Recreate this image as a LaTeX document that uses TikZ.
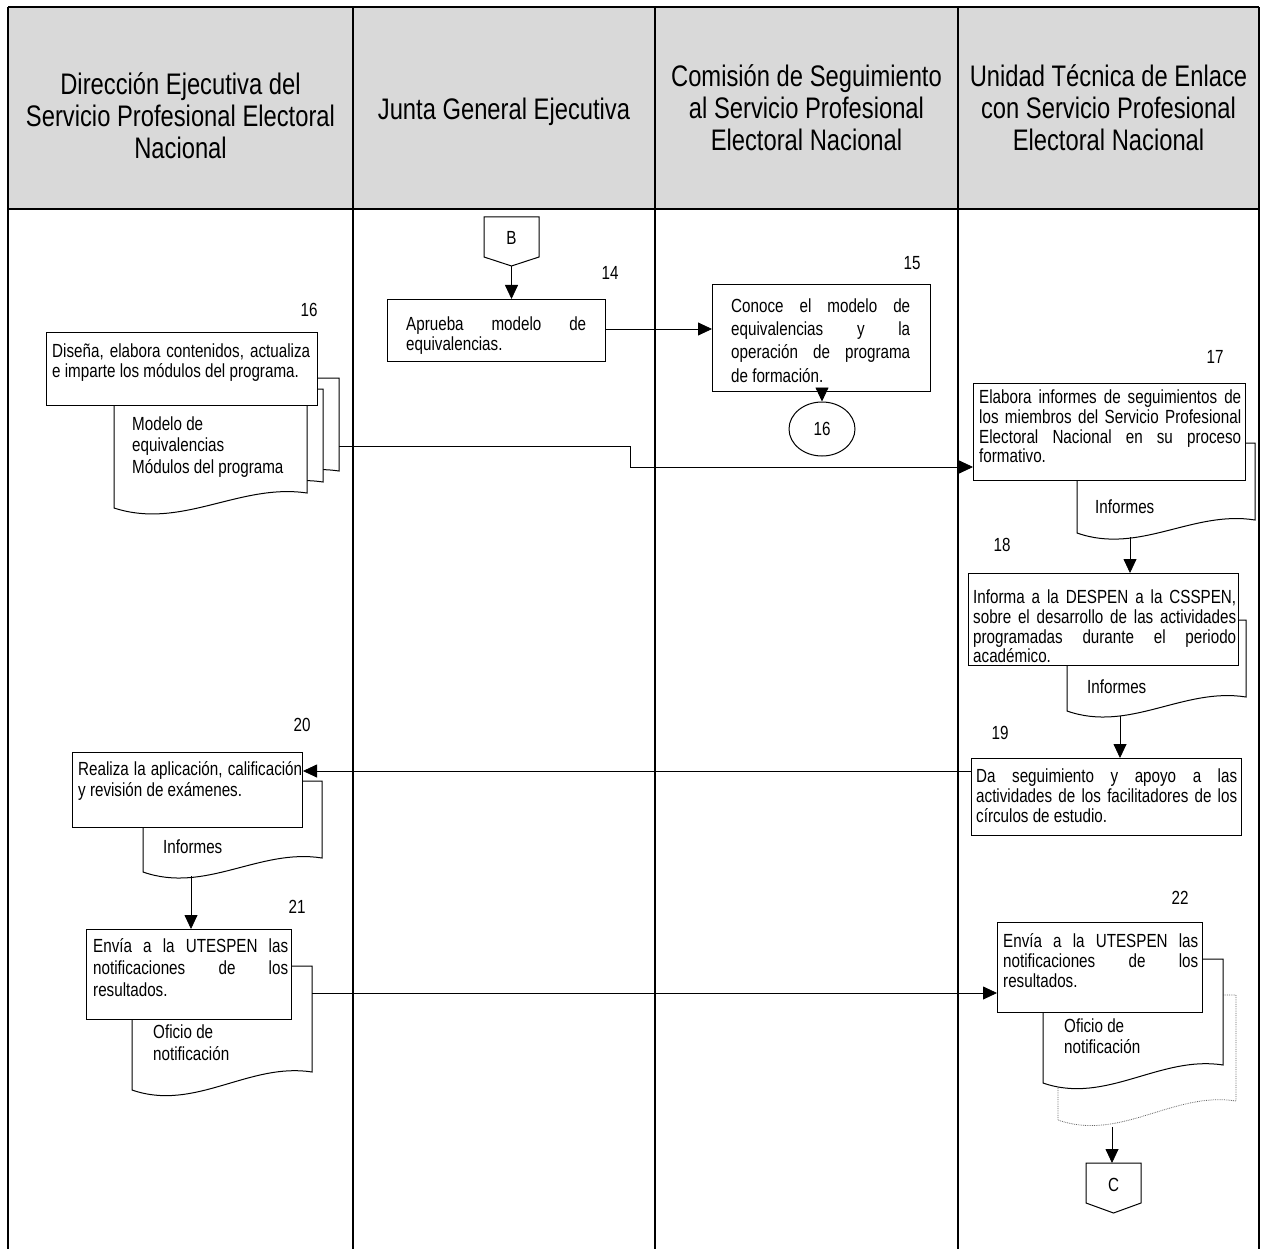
\documentclass[tikz,border=0pt]{standalone}
\usepackage{fontspec}
\setmainfont[FakeStretch=0.8]{Liberation Sans}
\usetikzlibrary{arrows.meta,shapes.geometric}
\tikzset{
  lane/.style={draw=black, line width=1.3pt},
  box/.style={draw=black, line width=1pt, fill=white, rectangle, inner sep=0pt, anchor=north west},
  doc/.style={draw=black, line width=1pt, fill=white},
  ghost/.style={draw=black!60, line width=0.8pt, densely dotted, fill=white},
  arr/.style={draw=black, line width=0.8pt, -{Triangle[length=14pt,width=13pt]}},
  txt/.style={inner sep=0pt, anchor=north west, align=justify, font=\fontsize{19}{19.5}\selectfont},
  ltxt/.style={inner sep=0pt, anchor=north west, align=left, font=\fontsize{19}{21}\selectfont},
  num/.style={inner sep=0pt, font=\fontsize{19}{19.5}\selectfont},
  head/.style={inner sep=0pt, align=center, font=\fontsize{29.7}{32}\selectfont},
}
\newcommand\docshape[6]{\path[#1] (#2,#4) -- (#3,#4) -- (#3,#6) .. controls ({#3-0.35*(#3-#2)},{#6-10}) and ({#2+0.35*(#3-#2)},{#5+22}) .. (#2,#5) -- cycle;}
\begin{document}
\begin{tikzpicture}[x=1pt,y=-1pt]
\useasboundingbox (0,0) rectangle (1261,1249);
\fill[white] (0,0) rectangle (1261,1249);
% header
\fill[black!15] (8,7) rectangle (1259,209);
\draw[lane] (8,7) -- (1259,7);
\draw[lane] (8,209) -- (1259,209);
\foreach \xx in {8,353,655,958,1259} { \draw[lane] (\xx,7) -- (\xx,1249); }
\node[head] (h1) at (180.5,116) {Dirección Ejecutiva del\\Servicio Profesional Electoral\\Nacional};
\node[head] (h2) at (504,112) {Junta General Ejecutiva};
\node[head] (h3) at (806.5,108) {Comisión de Seguimiento\\al Servicio Profesional\\Electoral Nacional};
\node[head] (h4) at (1108.5,108) {Unidad Técnica de Enlace\\con Servicio Profesional\\Electoral Nacional};

% connector B
\draw[doc] (484,217) -- (539,217) -- (539,257) -- (511.5,266) -- (484,257) -- cycle;
\node[num] (B) at (511.5,238) {B};
\coordinate (Btip) at (511.5,266);

% 14
\node[box, minimum width=218pt, minimum height=62pt] (b14) at (387,299) {};
\node[txt, text width=180pt] (t14) at (406,316.35) {\strut Aprueba modelo de\linebreak equivalencias.};
\node[num] (n14) at (610,273) {14};

% 15
\node[box, minimum width=218pt, minimum height=107pt] (b15) at (712,284) {};
\node[txt, text width=179pt, font=\fontsize{19}{23.3}\selectfont] (t15) at (731,295.7) {\strut Conoce el modelo de\linebreak equivalencias y la\linebreak operación de programa\linebreak de formación.};
\node[num] (n15) at (912,263) {15};
\node[draw=black, line width=1pt, ellipse, minimum width=66pt, minimum height=54pt, inner sep=0pt, font=\fontsize{19}{19.5}\selectfont] (c16) at (822,429) {16};

% 16 stack
\docshape{doc}{146}{339}{378}{486}{471}
\docshape{doc}{130}{323}{389}{497}{482}
\docshape{doc}{114}{307}{400}{508}{493}
\node[box, minimum width=271pt, minimum height=73pt] (b16) at (46,332) {};
\node[txt, text width=258pt, font=\fontsize{19}{20.5}\selectfont] (t16) at (52,342.65) {\strut Diseña, elabora contenidos, actualiza\linebreak e imparte los módulos del programa.};
\node[ltxt, font=\fontsize{19}{21.5}\selectfont] (m16) at (132,414.95) {\strut Modelo de\\equivalencias\\Módulos del programa};
\node[num] (n16) at (309,310) {16};
\coordinate (s16) at (339,446);

% 17
\docshape{doc}{1077}{1255}{443}{533}{520}
\node[box, minimum width=272pt, minimum height=97pt] (b17) at (973,383) {};
\node[txt, text width=262pt] (t17) at (979,389.35) {\strut Elabora informes de seguimientos de\linebreak los miembros del Servicio Profesional\linebreak Electoral Nacional en su proceso\linebreak formativo.};
\node[num] (n17) at (1215,357) {17};
\node[num, anchor=base west] (i17) at (1095,513) {Informes};
\coordinate (d17) at (1130,537);

% 18
\docshape{doc}{1067}{1246}{620}{711}{697}
\node[box, minimum width=270pt, minimum height=92pt] (b18) at (968,573) {};
\node[txt, text width=263pt] (t18) at (973,589.35) {\strut Informa a la DESPEN a la CSSPEN,\linebreak sobre el desarrollo de las actividades\linebreak programadas durante el periodo\linebreak académico.};
\node[num] (n18) at (1002,545) {18};
\node[num, anchor=base west] (i18) at (1087,693) {Informes};
\coordinate (d18) at (1120,716);

% 19
\node[box, minimum width=270pt, minimum height=77pt] (b19) at (971,758) {};
\node[txt, text width=261pt] (t19) at (976,768.35) {\strut Da seguimiento y apoyo a las\linebreak actividades de los facilitadores de los\linebreak círculos de estudio.};
\node[num] (n19) at (1000,733) {19};

% 20
\docshape{doc}{143}{322}{781}{872}{858}
\node[box, minimum width=230pt, minimum height=75pt] (b20) at (72,752) {};
\node[txt, text width=224pt, font=\fontsize{19}{21}\selectfont] (t20) at (78,760.3) {\strut Realiza la aplicación, calificación\linebreak y revisión de exámenes.};
\node[num] (n20) at (302,725) {20};
\node[num, anchor=base west] (i20) at (163,853) {Informes};
\coordinate (d20) at (191,876);
\coordinate (a20) at (0,771);

% 21
\docshape{doc}{132}{312}{966}{1090}{1072}
\node[box, minimum width=205pt, minimum height=90pt] (b21) at (86,929) {};
\node[txt, text width=195pt, font=\fontsize{19}{22}\selectfont] (t21) at (93,936.6) {\strut Envía a la UTESPEN las\linebreak notificaciones de los\linebreak resultados.};
\node[num] (n21) at (297,907) {21};
\node[ltxt, font=\fontsize{19}{22}\selectfont] (o21) at (153,1022.6) {\strut Oficio de\\notificación};
\coordinate (s21) at (312,993);

% 22
\docshape{ghost}{1058}{1236}{995}{1120}{1101}
\docshape{doc}{1043}{1223}{959}{1083}{1065}
\node[box, minimum width=205pt, minimum height=90pt] (b22) at (997,922) {};
\node[txt, text width=195pt, font=\fontsize{19}{20}\selectfont] (t22) at (1003,933) {\strut Envía a la UTESPEN las\linebreak notificaciones de los\linebreak resultados.};
\node[num] (n22) at (1180,898) {22};
\node[ltxt, font=\fontsize{19}{21}\selectfont] (o22) at (1064,1017.3) {\strut Oficio de\\notificación};
\coordinate (dd) at (1112,1127);

% connector C
\draw[doc] (1086,1163) -- (1141,1163) -- (1141,1203) -- (1113.5,1213) -- (1086,1203) -- cycle;
\node[num] (C) at (1113.5,1185) {C};
\coordinate (Ctop) at (1112,1163);

% connectors
\draw[arr] (Btip) -- (Btip |- b14.north);
\draw[arr] (b14.east |- 0,329) -- (b15.west |- 0,329);
\draw[arr] (b15.south -| c16.north) -- (c16.north);
\coordinate (elb) at (630,467);
\draw[arr] (s16) -- (s16 -| elb) -- (elb) -- (elb -| b17.west);
\draw[arr] (d17) -- (d17 |- b18.north);
\draw[arr] (d18) -- (d18 |- b19.north);
\draw[arr] (b19.west |- a20) -- (b20.east |- a20);
\draw[arr] (d20) -- (d20 |- b21.north);
\draw[arr] (s21) -- (b22.west |- s21);
\draw[arr] (dd) -- (Ctop);
\end{tikzpicture}
\end{document}
